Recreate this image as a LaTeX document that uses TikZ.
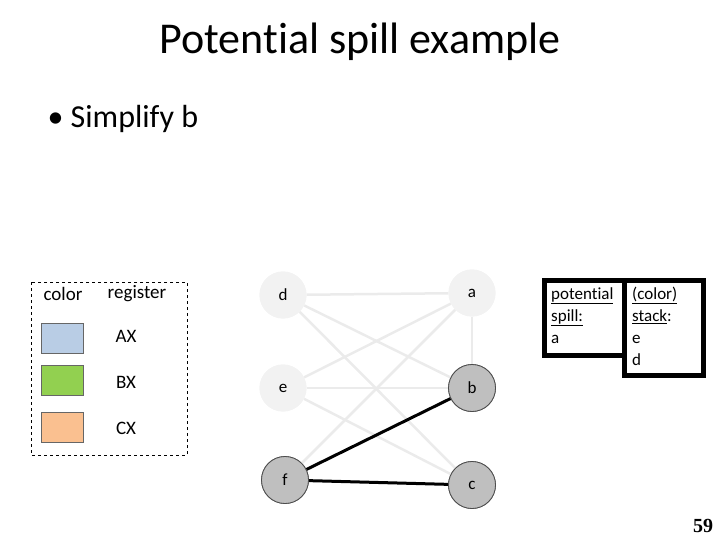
\documentclass[tikz,border=0pt]{standalone}
\usepackage{fontspec}
\setmainfont[Ligatures=NoCommon]{Carlito}
\newfontfamily\numfont{Liberation Serif}
\definecolor{lightnode}{HTML}{F2F2F2}
\definecolor{darknode}{HTML}{BFBFBF}
\definecolor{lightedge}{HTML}{EBEBEB}
\definecolor{swblue}{HTML}{B9CDE5}
\definecolor{swgreen}{HTML}{92D050}
\definecolor{sworange}{HTML}{FAC090}
\tikzset{
  lnode/.style={circle, fill=lightnode, minimum size=47pt, inner sep=0pt, font=\fontsize{17}{20}\selectfont},
  dnode/.style={circle, fill=darknode, draw=black!70, line width=0.8pt, minimum size=47pt, inner sep=0pt, font=\fontsize{17}{20}\selectfont},
  ledge/.style={draw=lightedge, line width=2.5pt},
  dedge/.style={draw=black, line width=3pt},
  swatch/.style={draw=black!60, line width=0.6pt, minimum width=42pt, minimum height=30pt, inner sep=0pt},
  legtext/.style={font=\fontsize{19}{22}\selectfont},
  boxframe/.style={draw=black, line width=5pt, fill=white},
  boxtext/.style={font=\fontsize{17}{22}\selectfont, align=left, anchor=north west, inner sep=0pt}
}
\begin{document}
\begin{tikzpicture}[x=1pt,y=-1pt]
\useasboundingbox (0,0) rectangle (720,540);
% title
\node (title) at (360,42) {\fontsize{44}{48}\selectfont Potential spill example};
\node[anchor=west] (bullet) at (44,119) {\fontsize{32}{36}\selectfont \textbullet\ Simplify b};
% legend
\draw[dashed, line width=0.8pt] (31,282) rectangle (187,455);
\node[legtext] (lcolor) at (63,294) {color};
\node[legtext] (lreg) at (137,294) {register};
\node[swatch, fill=swblue] (s1) at (62,338) {};
\node[swatch, fill=swgreen] (s2) at (62,380) {};
\node[swatch, fill=sworange] (s3) at (62,427) {};
\node[legtext] (ax) at (126,336) {AX};
\node[legtext] (bx) at (126,382) {BX};
\node[legtext] (cx) at (126,428) {CX};
% graph nodes
\node[lnode] (d) at (283,295) {d};
\node[lnode] (a) at (472,293) {a};
\node[lnode] (e) at (283,388) {e};
\node[dnode] (b) at (472,388) {b};
\node[dnode] (f) at (285,480) {f};
\node[dnode] (c) at (472,485) {c};
% edges
\draw[ledge] (d) -- (a);
\draw[ledge] (d) -- (b);
\draw[ledge] (d) -- (c);
\draw[ledge] (a) -- (e);
\draw[ledge] (a) -- (f);
\draw[ledge] (a) -- (b);
\draw[ledge] (e) -- (b);
\draw[ledge] (e) -- (c);
\draw[dedge] (f) -- (b);
\draw[dedge] (f) -- (c);
% redraw nodes on top
\node[lnode] at (d) {d};
\node[lnode] at (a) {a};
\node[lnode] at (e) {e};
\node[dnode] at (b) {b};
\node[dnode] at (f) {f};
\node[dnode] at (c) {c};
% boxes
\draw[boxframe] (544.5,280.5) rectangle (625,355);
\draw[boxframe] (624.5,280.5) rectangle (703,375.5);
\node[boxtext] (spill) at (551,287) {\underline{potential}\\\underline{spill:}\\a};
\node[boxtext] (stack) at (632,287) {\underline{(color)}\\\underline{stack}:\\e\\d};
% page number
\node (pg) at (703,526) {\numfont\bfseries\fontsize{20}{22}\selectfont 59};
\end{tikzpicture}
\end{document}
